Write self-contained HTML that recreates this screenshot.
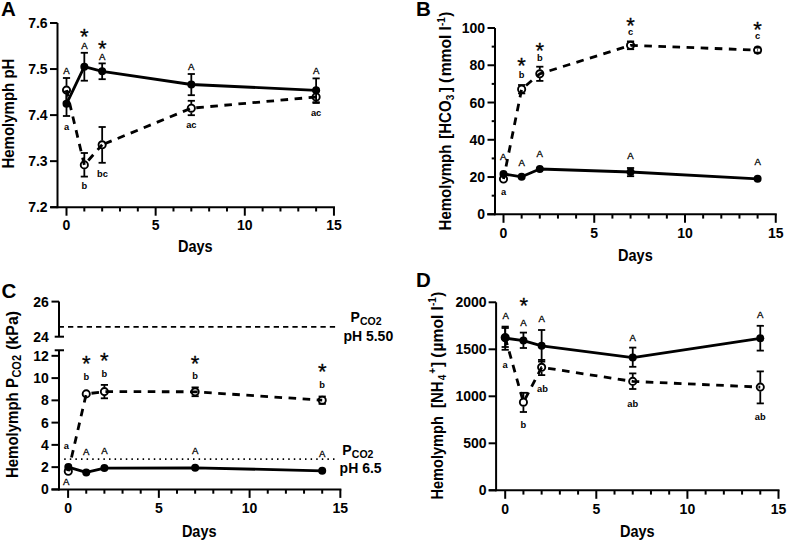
<!DOCTYPE html>
<html><head><meta charset="utf-8"><style>
html,body{margin:0;padding:0;background:#fff;}
svg{display:block;}
text{font-family:"Liberation Sans",sans-serif;fill:#000;}
</style></head><body>
<svg width="787" height="542" viewBox="0 0 787 542">
<rect width="787" height="542" fill="#fff"/>
<text x="1.00" y="15.80" font-size="20.5" font-weight="bold" text-anchor="start" >A</text>
<line x1="57.50" y1="23.00" x2="57.50" y2="208.20" stroke="#000" stroke-width="2.0" />
<line x1="50.00" y1="207.20" x2="57.50" y2="207.20" stroke="#000" stroke-width="2.0" />
<text x="47.60" y="212.24" font-size="14.0" font-weight="bold" text-anchor="end" >7.2</text>
<line x1="50.00" y1="161.15" x2="57.50" y2="161.15" stroke="#000" stroke-width="2.0" />
<text x="47.60" y="166.19" font-size="14.0" font-weight="bold" text-anchor="end" >7.3</text>
<line x1="50.00" y1="115.10" x2="57.50" y2="115.10" stroke="#000" stroke-width="2.0" />
<text x="47.60" y="120.14" font-size="14.0" font-weight="bold" text-anchor="end" >7.4</text>
<line x1="50.00" y1="69.05" x2="57.50" y2="69.05" stroke="#000" stroke-width="2.0" />
<text x="47.60" y="74.09" font-size="14.0" font-weight="bold" text-anchor="end" >7.5</text>
<line x1="50.00" y1="23.00" x2="57.50" y2="23.00" stroke="#000" stroke-width="2.0" />
<text x="47.60" y="28.04" font-size="14.0" font-weight="bold" text-anchor="end" >7.6</text>
<line x1="50.40" y1="207.20" x2="334.95" y2="207.20" stroke="#000" stroke-width="2.0" />
<line x1="66.50" y1="207.20" x2="66.50" y2="215.70" stroke="#000" stroke-width="2.0" />
<text x="66.50" y="230.20" font-size="14.0" font-weight="bold" text-anchor="middle" >0</text>
<line x1="84.33" y1="207.20" x2="84.33" y2="211.50" stroke="#000" stroke-width="2.0" />
<line x1="102.16" y1="207.20" x2="102.16" y2="211.50" stroke="#000" stroke-width="2.0" />
<line x1="119.99" y1="207.20" x2="119.99" y2="211.50" stroke="#000" stroke-width="2.0" />
<line x1="137.82" y1="207.20" x2="137.82" y2="211.50" stroke="#000" stroke-width="2.0" />
<line x1="155.65" y1="207.20" x2="155.65" y2="215.70" stroke="#000" stroke-width="2.0" />
<text x="155.65" y="230.20" font-size="14.0" font-weight="bold" text-anchor="middle" >5</text>
<line x1="173.48" y1="207.20" x2="173.48" y2="211.50" stroke="#000" stroke-width="2.0" />
<line x1="191.31" y1="207.20" x2="191.31" y2="211.50" stroke="#000" stroke-width="2.0" />
<line x1="209.14" y1="207.20" x2="209.14" y2="211.50" stroke="#000" stroke-width="2.0" />
<line x1="226.97" y1="207.20" x2="226.97" y2="211.50" stroke="#000" stroke-width="2.0" />
<line x1="244.80" y1="207.20" x2="244.80" y2="215.70" stroke="#000" stroke-width="2.0" />
<text x="244.80" y="230.20" font-size="14.0" font-weight="bold" text-anchor="middle" >10</text>
<line x1="262.63" y1="207.20" x2="262.63" y2="211.50" stroke="#000" stroke-width="2.0" />
<line x1="280.46" y1="207.20" x2="280.46" y2="211.50" stroke="#000" stroke-width="2.0" />
<line x1="298.29" y1="207.20" x2="298.29" y2="211.50" stroke="#000" stroke-width="2.0" />
<line x1="316.12" y1="207.20" x2="316.12" y2="211.50" stroke="#000" stroke-width="2.0" />
<line x1="333.95" y1="207.20" x2="333.95" y2="215.70" stroke="#000" stroke-width="2.0" />
<text x="333.95" y="230.20" font-size="14.0" font-weight="bold" text-anchor="middle" >15</text>
<text transform="translate(195.30,251.90) scale(1,1.08)" x="0" y="0" font-size="14.5" font-weight="bold" text-anchor="middle" >Days</text>
<text transform="translate(14.00,168.60) rotate(-90) scale(1,1.08)" x="0" y="0" font-size="15" font-weight="bold" text-anchor="start">Hemolymph pH</text>
<line x1="66.50" y1="78.00" x2="66.50" y2="85.85" stroke="#000" stroke-width="1.8" />
<line x1="66.50" y1="94.35" x2="66.50" y2="102.20" stroke="#000" stroke-width="1.8" />
<line x1="62.90" y1="78.00" x2="70.10" y2="78.00" stroke="#000" stroke-width="1.8" />
<line x1="62.90" y1="102.20" x2="70.10" y2="102.20" stroke="#000" stroke-width="1.8" />
<line x1="84.33" y1="153.00" x2="84.33" y2="160.65" stroke="#000" stroke-width="1.8" />
<line x1="84.33" y1="169.15" x2="84.33" y2="176.60" stroke="#000" stroke-width="1.8" />
<line x1="80.73" y1="153.00" x2="87.93" y2="153.00" stroke="#000" stroke-width="1.8" />
<line x1="80.73" y1="176.60" x2="87.93" y2="176.60" stroke="#000" stroke-width="1.8" />
<line x1="102.16" y1="127.00" x2="102.16" y2="140.55" stroke="#000" stroke-width="1.8" />
<line x1="102.16" y1="149.05" x2="102.16" y2="162.80" stroke="#000" stroke-width="1.8" />
<line x1="98.56" y1="127.00" x2="105.76" y2="127.00" stroke="#000" stroke-width="1.8" />
<line x1="98.56" y1="162.80" x2="105.76" y2="162.80" stroke="#000" stroke-width="1.8" />
<line x1="191.31" y1="100.80" x2="191.31" y2="103.95" stroke="#000" stroke-width="1.8" />
<line x1="191.31" y1="112.45" x2="191.31" y2="115.20" stroke="#000" stroke-width="1.8" />
<line x1="187.71" y1="100.80" x2="194.91" y2="100.80" stroke="#000" stroke-width="1.8" />
<line x1="187.71" y1="115.20" x2="194.91" y2="115.20" stroke="#000" stroke-width="1.8" />
<line x1="316.12" y1="91.20" x2="316.12" y2="92.75" stroke="#000" stroke-width="1.8" />
<line x1="316.12" y1="101.25" x2="316.12" y2="103.00" stroke="#000" stroke-width="1.8" />
<line x1="312.52" y1="91.20" x2="319.72" y2="91.20" stroke="#000" stroke-width="1.8" />
<line x1="312.52" y1="103.00" x2="319.72" y2="103.00" stroke="#000" stroke-width="1.8" />
<path d="M66.50,90.10 L84.33,164.90" fill="none" stroke="#000" stroke-width="2.8" stroke-dasharray="7.6 6.5" stroke-dashoffset="-13.00" stroke-linejoin="round"/>
<path d="M84.33,164.90 L102.16,144.80" fill="none" stroke="#000" stroke-width="2.8" stroke-dasharray="7.6 6.5" stroke-dashoffset="-5.90" stroke-linejoin="round"/>
<path d="M102.16,144.80 L191.31,108.20 L316.12,97.00" fill="none" stroke="#000" stroke-width="2.8" stroke-dasharray="7.6 6.5" stroke-dashoffset="-2.65" stroke-linejoin="round"/>
<circle cx="66.50" cy="90.10" r="3.6" fill="none" stroke="#000" stroke-width="1.9"/>
<circle cx="84.33" cy="164.90" r="3.6" fill="none" stroke="#000" stroke-width="1.9"/>
<circle cx="102.16" cy="144.80" r="3.6" fill="none" stroke="#000" stroke-width="1.9"/>
<circle cx="191.31" cy="108.20" r="3.6" fill="none" stroke="#000" stroke-width="1.9"/>
<circle cx="316.12" cy="97.00" r="3.6" fill="none" stroke="#000" stroke-width="1.9"/>
<line x1="66.50" y1="91.60" x2="66.50" y2="116.00" stroke="#000" stroke-width="1.8" />
<line x1="62.90" y1="91.60" x2="70.10" y2="91.60" stroke="#000" stroke-width="1.8" />
<line x1="62.90" y1="116.00" x2="70.10" y2="116.00" stroke="#000" stroke-width="1.8" />
<line x1="84.33" y1="52.80" x2="84.33" y2="80.70" stroke="#000" stroke-width="1.8" />
<line x1="80.73" y1="52.80" x2="87.93" y2="52.80" stroke="#000" stroke-width="1.8" />
<line x1="80.73" y1="80.70" x2="87.93" y2="80.70" stroke="#000" stroke-width="1.8" />
<line x1="102.16" y1="63.40" x2="102.16" y2="79.20" stroke="#000" stroke-width="1.8" />
<line x1="98.56" y1="63.40" x2="105.76" y2="63.40" stroke="#000" stroke-width="1.8" />
<line x1="98.56" y1="79.20" x2="105.76" y2="79.20" stroke="#000" stroke-width="1.8" />
<line x1="191.31" y1="74.00" x2="191.31" y2="95.20" stroke="#000" stroke-width="1.8" />
<line x1="187.71" y1="74.00" x2="194.91" y2="74.00" stroke="#000" stroke-width="1.8" />
<line x1="187.71" y1="95.20" x2="194.91" y2="95.20" stroke="#000" stroke-width="1.8" />
<line x1="316.12" y1="78.40" x2="316.12" y2="102.20" stroke="#000" stroke-width="1.8" />
<line x1="312.52" y1="78.40" x2="319.72" y2="78.40" stroke="#000" stroke-width="1.8" />
<line x1="312.52" y1="102.20" x2="319.72" y2="102.20" stroke="#000" stroke-width="1.8" />
<path d="M66.50,103.80 L84.33,66.70 L102.16,71.30 L191.31,84.50 L316.12,90.30" fill="none" stroke="#000" stroke-width="2.8" stroke-linejoin="round"/>
<circle cx="66.50" cy="103.80" r="4.0" fill="#000"/>
<circle cx="84.33" cy="66.70" r="4.0" fill="#000"/>
<circle cx="102.16" cy="71.30" r="4.0" fill="#000"/>
<circle cx="191.31" cy="84.50" r="4.0" fill="#000"/>
<circle cx="316.12" cy="90.30" r="4.0" fill="#000"/>
<text x="66.50" y="73.70" font-size="9.6" font-weight="normal" text-anchor="middle" stroke="#000" stroke-width="0.3">A</text>
<text x="84.33" y="49.00" font-size="9.6" font-weight="normal" text-anchor="middle" stroke="#000" stroke-width="0.3">A</text>
<text x="102.16" y="59.60" font-size="9.6" font-weight="normal" text-anchor="middle" stroke="#000" stroke-width="0.3">A</text>
<text x="191.31" y="69.90" font-size="9.6" font-weight="normal" text-anchor="middle" stroke="#000" stroke-width="0.3">A</text>
<text x="316.12" y="73.90" font-size="9.6" font-weight="normal" text-anchor="middle" stroke="#000" stroke-width="0.3">A</text>
<text x="84.33" y="43.76" font-size="22.0" font-weight="normal" text-anchor="middle" stroke="#000" stroke-width="0.3">*</text>
<text x="102.16" y="56.46" font-size="22.0" font-weight="normal" text-anchor="middle" stroke="#000" stroke-width="0.3">*</text>
<text x="66.50" y="129.50" font-size="9.3" font-weight="bold" text-anchor="middle" >a</text>
<text x="84.33" y="189.00" font-size="9.3" font-weight="bold" text-anchor="middle" >b</text>
<text x="102.46" y="176.60" font-size="9.3" font-weight="bold" text-anchor="middle" >bc</text>
<text x="191.31" y="128.40" font-size="9.3" font-weight="bold" text-anchor="middle" >ac</text>
<text x="316.12" y="116.20" font-size="9.3" font-weight="bold" text-anchor="middle" >ac</text>
<text x="416.00" y="15.60" font-size="20.5" font-weight="bold" text-anchor="start" >B</text>
<line x1="495.00" y1="28.00" x2="495.00" y2="215.30" stroke="#000" stroke-width="2.0" />
<line x1="487.50" y1="214.30" x2="495.00" y2="214.30" stroke="#000" stroke-width="2.0" />
<text x="485.00" y="219.34" font-size="14.0" font-weight="bold" text-anchor="end" >0</text>
<line x1="487.50" y1="177.04" x2="495.00" y2="177.04" stroke="#000" stroke-width="2.0" />
<text x="485.00" y="182.08" font-size="14.0" font-weight="bold" text-anchor="end" >20</text>
<line x1="487.50" y1="139.78" x2="495.00" y2="139.78" stroke="#000" stroke-width="2.0" />
<text x="485.00" y="144.82" font-size="14.0" font-weight="bold" text-anchor="end" >40</text>
<line x1="487.50" y1="102.52" x2="495.00" y2="102.52" stroke="#000" stroke-width="2.0" />
<text x="485.00" y="107.56" font-size="14.0" font-weight="bold" text-anchor="end" >60</text>
<line x1="487.50" y1="65.26" x2="495.00" y2="65.26" stroke="#000" stroke-width="2.0" />
<text x="485.00" y="70.30" font-size="14.0" font-weight="bold" text-anchor="end" >80</text>
<line x1="487.50" y1="28.00" x2="495.00" y2="28.00" stroke="#000" stroke-width="2.0" />
<text x="485.00" y="33.04" font-size="14.0" font-weight="bold" text-anchor="end" >100</text>
<line x1="491.70" y1="195.67" x2="495.00" y2="195.67" stroke="#000" stroke-width="2.0" />
<line x1="491.70" y1="158.41" x2="495.00" y2="158.41" stroke="#000" stroke-width="2.0" />
<line x1="491.70" y1="121.15" x2="495.00" y2="121.15" stroke="#000" stroke-width="2.0" />
<line x1="491.70" y1="83.89" x2="495.00" y2="83.89" stroke="#000" stroke-width="2.0" />
<line x1="491.70" y1="46.63" x2="495.00" y2="46.63" stroke="#000" stroke-width="2.0" />
<line x1="487.20" y1="214.30" x2="776.75" y2="214.30" stroke="#000" stroke-width="2.0" />
<line x1="503.50" y1="214.30" x2="503.50" y2="222.80" stroke="#000" stroke-width="2.0" />
<text x="503.50" y="237.60" font-size="14.0" font-weight="bold" text-anchor="middle" >0</text>
<line x1="521.65" y1="214.30" x2="521.65" y2="218.60" stroke="#000" stroke-width="2.0" />
<line x1="539.80" y1="214.30" x2="539.80" y2="218.60" stroke="#000" stroke-width="2.0" />
<line x1="557.95" y1="214.30" x2="557.95" y2="218.60" stroke="#000" stroke-width="2.0" />
<line x1="576.10" y1="214.30" x2="576.10" y2="218.60" stroke="#000" stroke-width="2.0" />
<line x1="594.25" y1="214.30" x2="594.25" y2="222.80" stroke="#000" stroke-width="2.0" />
<text x="594.25" y="237.60" font-size="14.0" font-weight="bold" text-anchor="middle" >5</text>
<line x1="612.40" y1="214.30" x2="612.40" y2="218.60" stroke="#000" stroke-width="2.0" />
<line x1="630.55" y1="214.30" x2="630.55" y2="218.60" stroke="#000" stroke-width="2.0" />
<line x1="648.70" y1="214.30" x2="648.70" y2="218.60" stroke="#000" stroke-width="2.0" />
<line x1="666.85" y1="214.30" x2="666.85" y2="218.60" stroke="#000" stroke-width="2.0" />
<line x1="685.00" y1="214.30" x2="685.00" y2="222.80" stroke="#000" stroke-width="2.0" />
<text x="685.00" y="237.60" font-size="14.0" font-weight="bold" text-anchor="middle" >10</text>
<line x1="703.15" y1="214.30" x2="703.15" y2="218.60" stroke="#000" stroke-width="2.0" />
<line x1="721.30" y1="214.30" x2="721.30" y2="218.60" stroke="#000" stroke-width="2.0" />
<line x1="739.45" y1="214.30" x2="739.45" y2="218.60" stroke="#000" stroke-width="2.0" />
<line x1="757.60" y1="214.30" x2="757.60" y2="218.60" stroke="#000" stroke-width="2.0" />
<line x1="775.75" y1="214.30" x2="775.75" y2="222.80" stroke="#000" stroke-width="2.0" />
<text x="775.75" y="237.60" font-size="14.0" font-weight="bold" text-anchor="middle" >15</text>
<text transform="translate(635.40,260.80) scale(1,1.08)" x="0" y="0" font-size="14.5" font-weight="bold" text-anchor="middle" >Days</text>
<text transform="translate(451.00,230.40) rotate(-90) scale(1,1.08)" x="0" y="0" font-size="15" font-weight="bold" text-anchor="start">Hemolymph <tspan dx="1.7">[HCO</tspan><tspan font-size="10" dy="2.5">3</tspan><tspan dx="2.5" dy="-2.5">]</tspan><tspan font-size="15.6"> (<tspan dx="1.5">mmol l</tspan></tspan><tspan font-size="10" dy="-6">-1</tspan><tspan dy="6" dx="0.5">)</tspan></text>
<line x1="518.05" y1="85.00" x2="525.25" y2="85.00" stroke="#000" stroke-width="1.8" />
<line x1="518.05" y1="93.40" x2="525.25" y2="93.40" stroke="#000" stroke-width="1.8" />
<line x1="539.80" y1="66.70" x2="539.80" y2="69.55" stroke="#000" stroke-width="1.8" />
<line x1="539.80" y1="78.05" x2="539.80" y2="80.90" stroke="#000" stroke-width="1.8" />
<line x1="536.20" y1="66.70" x2="543.40" y2="66.70" stroke="#000" stroke-width="1.8" />
<line x1="536.20" y1="80.90" x2="543.40" y2="80.90" stroke="#000" stroke-width="1.8" />
<line x1="626.95" y1="41.40" x2="634.15" y2="41.40" stroke="#000" stroke-width="1.8" />
<line x1="626.95" y1="49.20" x2="634.15" y2="49.20" stroke="#000" stroke-width="1.8" />
<line x1="754.00" y1="47.60" x2="761.20" y2="47.60" stroke="#000" stroke-width="1.8" />
<line x1="754.00" y1="52.60" x2="761.20" y2="52.60" stroke="#000" stroke-width="1.8" />
<path d="M503.50,179.00 L521.65,89.20 L539.80,73.80 L630.55,45.30 L757.60,50.10" fill="none" stroke="#000" stroke-width="2.8" stroke-dasharray="7.6 6.5" stroke-dashoffset="1.30" stroke-linejoin="round"/>
<circle cx="503.50" cy="179.00" r="3.6" fill="none" stroke="#000" stroke-width="1.9"/>
<circle cx="521.65" cy="89.20" r="3.6" fill="none" stroke="#000" stroke-width="1.9"/>
<circle cx="539.80" cy="73.80" r="3.6" fill="none" stroke="#000" stroke-width="1.9"/>
<circle cx="630.55" cy="45.30" r="3.6" fill="none" stroke="#000" stroke-width="1.9"/>
<circle cx="757.60" cy="50.10" r="3.6" fill="none" stroke="#000" stroke-width="1.9"/>
<line x1="630.55" y1="168.00" x2="630.55" y2="176.20" stroke="#000" stroke-width="1.8" />
<line x1="626.95" y1="168.00" x2="634.15" y2="168.00" stroke="#000" stroke-width="1.8" />
<line x1="626.95" y1="176.20" x2="634.15" y2="176.20" stroke="#000" stroke-width="1.8" />
<path d="M503.50,174.00 L521.65,176.80 L539.80,169.00 L630.55,172.00 L757.60,178.80" fill="none" stroke="#000" stroke-width="2.8" stroke-linejoin="round"/>
<circle cx="503.50" cy="174.00" r="4.0" fill="#000"/>
<circle cx="521.65" cy="176.80" r="4.0" fill="#000"/>
<circle cx="539.80" cy="169.00" r="4.0" fill="#000"/>
<circle cx="630.55" cy="172.00" r="4.0" fill="#000"/>
<circle cx="757.60" cy="178.80" r="4.0" fill="#000"/>
<text x="503.10" y="160.10" font-size="9.6" font-weight="normal" text-anchor="middle" stroke="#000" stroke-width="0.3">A</text>
<text x="521.65" y="165.70" font-size="9.6" font-weight="normal" text-anchor="middle" stroke="#000" stroke-width="0.3">A</text>
<text x="539.80" y="157.40" font-size="9.6" font-weight="normal" text-anchor="middle" stroke="#000" stroke-width="0.3">A</text>
<text x="630.55" y="159.30" font-size="9.6" font-weight="normal" text-anchor="middle" stroke="#000" stroke-width="0.3">A</text>
<text x="757.60" y="165.00" font-size="9.6" font-weight="normal" text-anchor="middle" stroke="#000" stroke-width="0.3">A</text>
<text x="503.50" y="194.60" font-size="9.3" font-weight="bold" text-anchor="middle" >a</text>
<text x="521.65" y="77.60" font-size="9.3" font-weight="bold" text-anchor="middle" >b</text>
<text x="539.80" y="61.10" font-size="9.3" font-weight="bold" text-anchor="middle" >b</text>
<text x="630.55" y="35.00" font-size="9.3" font-weight="bold" text-anchor="middle" >c</text>
<text x="757.60" y="39.30" font-size="9.3" font-weight="bold" text-anchor="middle" >c</text>
<text x="521.65" y="73.46" font-size="22.0" font-weight="normal" text-anchor="middle" stroke="#000" stroke-width="0.3">*</text>
<text x="539.80" y="57.56" font-size="22.0" font-weight="normal" text-anchor="middle" stroke="#000" stroke-width="0.3">*</text>
<text x="630.55" y="33.06" font-size="22.0" font-weight="normal" text-anchor="middle" stroke="#000" stroke-width="0.3">*</text>
<text x="757.60" y="36.86" font-size="22.0" font-weight="normal" text-anchor="middle" stroke="#000" stroke-width="0.3">*</text>
<text x="1.50" y="297.90" font-size="20.5" font-weight="bold" text-anchor="start" >C</text>
<line x1="59.00" y1="301.60" x2="59.00" y2="336.70" stroke="#000" stroke-width="2.0" />
<line x1="51.50" y1="301.60" x2="59.00" y2="301.60" stroke="#000" stroke-width="2.0" />
<text x="48.90" y="306.64" font-size="14.0" font-weight="bold" text-anchor="end" >26</text>
<line x1="54.70" y1="336.70" x2="64.00" y2="336.70" stroke="#000" stroke-width="2.0" />
<text x="48.90" y="341.74" font-size="14.0" font-weight="bold" text-anchor="end" >24</text>
<line x1="54.70" y1="350.27" x2="64.00" y2="350.27" stroke="#000" stroke-width="2.0" />
<line x1="59.00" y1="350.27" x2="59.00" y2="490.40" stroke="#000" stroke-width="2.0" />
<line x1="51.50" y1="489.40" x2="59.00" y2="489.40" stroke="#000" stroke-width="2.0" />
<text x="48.90" y="494.44" font-size="14.0" font-weight="bold" text-anchor="end" >0</text>
<line x1="51.50" y1="467.14" x2="59.00" y2="467.14" stroke="#000" stroke-width="2.0" />
<text x="48.90" y="472.18" font-size="14.0" font-weight="bold" text-anchor="end" >2</text>
<line x1="51.50" y1="444.88" x2="59.00" y2="444.88" stroke="#000" stroke-width="2.0" />
<text x="48.90" y="449.92" font-size="14.0" font-weight="bold" text-anchor="end" >4</text>
<line x1="51.50" y1="422.62" x2="59.00" y2="422.62" stroke="#000" stroke-width="2.0" />
<text x="48.90" y="427.66" font-size="14.0" font-weight="bold" text-anchor="end" >6</text>
<line x1="51.50" y1="400.36" x2="59.00" y2="400.36" stroke="#000" stroke-width="2.0" />
<text x="48.90" y="405.40" font-size="14.0" font-weight="bold" text-anchor="end" >8</text>
<line x1="51.50" y1="378.10" x2="59.00" y2="378.10" stroke="#000" stroke-width="2.0" />
<text x="48.90" y="383.14" font-size="14.0" font-weight="bold" text-anchor="end" >10</text>
<line x1="51.50" y1="355.84" x2="59.00" y2="355.84" stroke="#000" stroke-width="2.0" />
<text x="48.90" y="360.88" font-size="14.0" font-weight="bold" text-anchor="end" >12</text>
<line x1="51.50" y1="489.40" x2="341.35" y2="489.40" stroke="#000" stroke-width="2.0" />
<line x1="68.10" y1="489.40" x2="68.10" y2="497.90" stroke="#000" stroke-width="2.0" />
<text x="68.10" y="512.60" font-size="14.0" font-weight="bold" text-anchor="middle" >0</text>
<line x1="86.25" y1="489.40" x2="86.25" y2="493.70" stroke="#000" stroke-width="2.0" />
<line x1="104.40" y1="489.40" x2="104.40" y2="493.70" stroke="#000" stroke-width="2.0" />
<line x1="122.55" y1="489.40" x2="122.55" y2="493.70" stroke="#000" stroke-width="2.0" />
<line x1="140.70" y1="489.40" x2="140.70" y2="493.70" stroke="#000" stroke-width="2.0" />
<line x1="158.85" y1="489.40" x2="158.85" y2="497.90" stroke="#000" stroke-width="2.0" />
<text x="158.85" y="512.60" font-size="14.0" font-weight="bold" text-anchor="middle" >5</text>
<line x1="177.00" y1="489.40" x2="177.00" y2="493.70" stroke="#000" stroke-width="2.0" />
<line x1="195.15" y1="489.40" x2="195.15" y2="493.70" stroke="#000" stroke-width="2.0" />
<line x1="213.30" y1="489.40" x2="213.30" y2="493.70" stroke="#000" stroke-width="2.0" />
<line x1="231.45" y1="489.40" x2="231.45" y2="493.70" stroke="#000" stroke-width="2.0" />
<line x1="249.60" y1="489.40" x2="249.60" y2="497.90" stroke="#000" stroke-width="2.0" />
<text x="249.60" y="512.60" font-size="14.0" font-weight="bold" text-anchor="middle" >10</text>
<line x1="267.75" y1="489.40" x2="267.75" y2="493.70" stroke="#000" stroke-width="2.0" />
<line x1="285.90" y1="489.40" x2="285.90" y2="493.70" stroke="#000" stroke-width="2.0" />
<line x1="304.05" y1="489.40" x2="304.05" y2="493.70" stroke="#000" stroke-width="2.0" />
<line x1="322.20" y1="489.40" x2="322.20" y2="493.70" stroke="#000" stroke-width="2.0" />
<line x1="340.35" y1="489.40" x2="340.35" y2="497.90" stroke="#000" stroke-width="2.0" />
<text x="340.35" y="512.60" font-size="14.0" font-weight="bold" text-anchor="middle" >15</text>
<text transform="translate(199.20,536.60) scale(1,1.08)" x="0" y="0" font-size="14.5" font-weight="bold" text-anchor="middle" >Days</text>
<text transform="translate(18.00,478.10) rotate(-90) scale(1,1.08)" x="0" y="0" font-size="15" font-weight="bold" text-anchor="start">Hemolymph P<tspan font-size="11" dy="3" dx="0.5">CO2</tspan><tspan dy="-3" dx="0.8" font-size="15.9"> (kPa)</tspan></text>
<line x1="58.65" y1="326.90" x2="335.80" y2="326.90" stroke="#000" stroke-width="1.7" stroke-dasharray="5.3 4.05"/>
<line x1="64.20" y1="459.10" x2="336.20" y2="459.10" stroke="#000" stroke-width="1.6" stroke-dasharray="1.5 4.1"/>
<text x="350.4" y="322.0" font-size="14" font-weight="bold">P<tspan font-size="10.5" dy="3.2" dx="0.3">CO2</tspan></text>
<text x="343.40" y="340.60" font-size="14" font-weight="bold" text-anchor="start" >pH 5.50</text>
<text x="342.2" y="454.5" font-size="14" font-weight="bold">P<tspan font-size="10.5" dy="3.2" dx="0.3">CO2</tspan></text>
<text x="339.60" y="472.70" font-size="14" font-weight="bold" text-anchor="start" >pH 6.5</text>
<line x1="104.40" y1="384.90" x2="104.40" y2="387.35" stroke="#000" stroke-width="1.8" />
<line x1="104.40" y1="395.85" x2="104.40" y2="398.30" stroke="#000" stroke-width="1.8" />
<line x1="100.80" y1="384.90" x2="108.00" y2="384.90" stroke="#000" stroke-width="1.8" />
<line x1="100.80" y1="398.30" x2="108.00" y2="398.30" stroke="#000" stroke-width="1.8" />
<line x1="195.15" y1="387.40" x2="195.15" y2="387.55" stroke="#000" stroke-width="1.8" />
<line x1="195.15" y1="396.05" x2="195.15" y2="396.20" stroke="#000" stroke-width="1.8" />
<line x1="191.55" y1="387.40" x2="198.75" y2="387.40" stroke="#000" stroke-width="1.8" />
<line x1="191.55" y1="396.20" x2="198.75" y2="396.20" stroke="#000" stroke-width="1.8" />
<line x1="318.60" y1="396.50" x2="325.80" y2="396.50" stroke="#000" stroke-width="1.8" />
<line x1="318.60" y1="403.90" x2="325.80" y2="403.90" stroke="#000" stroke-width="1.8" />
<path d="M68.30,471.30 L86.25,393.90 L104.40,391.60 L195.15,391.80 L322.20,400.20" fill="none" stroke="#000" stroke-width="2.8" stroke-dasharray="7.6 6.5" stroke-dashoffset="-0.10" stroke-linejoin="round"/>
<circle cx="68.30" cy="471.30" r="3.6" fill="none" stroke="#000" stroke-width="1.9"/>
<circle cx="86.25" cy="393.90" r="3.6" fill="none" stroke="#000" stroke-width="1.9"/>
<circle cx="104.40" cy="391.60" r="3.6" fill="none" stroke="#000" stroke-width="1.9"/>
<circle cx="195.15" cy="391.80" r="3.6" fill="none" stroke="#000" stroke-width="1.9"/>
<circle cx="322.20" cy="400.20" r="3.6" fill="none" stroke="#000" stroke-width="1.9"/>
<path d="M68.30,467.10 L86.25,472.40 L104.40,468.10 L195.15,467.80 L322.20,470.80" fill="none" stroke="#000" stroke-width="2.8" stroke-linejoin="round"/>
<circle cx="68.30" cy="467.10" r="4.0" fill="#000"/>
<circle cx="86.25" cy="472.40" r="4.0" fill="#000"/>
<circle cx="104.40" cy="468.10" r="4.0" fill="#000"/>
<circle cx="195.15" cy="467.80" r="4.0" fill="#000"/>
<circle cx="322.20" cy="470.80" r="4.0" fill="#000"/>
<text x="66.30" y="484.90" font-size="9.6" font-weight="normal" text-anchor="middle" stroke="#000" stroke-width="0.3">A</text>
<text x="86.25" y="454.80" font-size="9.6" font-weight="normal" text-anchor="middle" stroke="#000" stroke-width="0.3">A</text>
<text x="104.40" y="454.30" font-size="9.6" font-weight="normal" text-anchor="middle" stroke="#000" stroke-width="0.3">A</text>
<text x="195.15" y="454.30" font-size="9.6" font-weight="normal" text-anchor="middle" stroke="#000" stroke-width="0.3">A</text>
<text x="322.20" y="456.90" font-size="9.6" font-weight="normal" text-anchor="middle" stroke="#000" stroke-width="0.3">A</text>
<text x="66.30" y="449.40" font-size="9.3" font-weight="bold" text-anchor="middle" >a</text>
<text x="86.25" y="379.70" font-size="9.3" font-weight="bold" text-anchor="middle" >b</text>
<text x="104.40" y="377.10" font-size="9.3" font-weight="bold" text-anchor="middle" >b</text>
<text x="195.15" y="379.20" font-size="9.3" font-weight="bold" text-anchor="middle" >b</text>
<text x="322.20" y="388.00" font-size="9.3" font-weight="bold" text-anchor="middle" >b</text>
<text x="86.25" y="370.56" font-size="22.0" font-weight="normal" text-anchor="middle" stroke="#000" stroke-width="0.3">*</text>
<text x="104.40" y="367.96" font-size="22.0" font-weight="normal" text-anchor="middle" stroke="#000" stroke-width="0.3">*</text>
<text x="195.15" y="371.16" font-size="22.0" font-weight="normal" text-anchor="middle" stroke="#000" stroke-width="0.3">*</text>
<text x="322.20" y="379.06" font-size="22.0" font-weight="normal" text-anchor="middle" stroke="#000" stroke-width="0.3">*</text>
<text x="416.00" y="286.80" font-size="20.5" font-weight="bold" text-anchor="start" >D</text>
<line x1="496.10" y1="302.30" x2="496.10" y2="491.30" stroke="#000" stroke-width="2.0" />
<line x1="488.60" y1="490.30" x2="496.10" y2="490.30" stroke="#000" stroke-width="2.0" />
<text x="486.60" y="495.34" font-size="14.0" font-weight="bold" text-anchor="end" >0</text>
<line x1="488.60" y1="443.30" x2="496.10" y2="443.30" stroke="#000" stroke-width="2.0" />
<text x="486.60" y="448.34" font-size="14.0" font-weight="bold" text-anchor="end" >500</text>
<line x1="488.60" y1="396.30" x2="496.10" y2="396.30" stroke="#000" stroke-width="2.0" />
<text x="486.60" y="401.34" font-size="14.0" font-weight="bold" text-anchor="end" >1000</text>
<line x1="488.60" y1="349.30" x2="496.10" y2="349.30" stroke="#000" stroke-width="2.0" />
<text x="486.60" y="354.34" font-size="14.0" font-weight="bold" text-anchor="end" >1500</text>
<line x1="488.60" y1="302.30" x2="496.10" y2="302.30" stroke="#000" stroke-width="2.0" />
<text x="486.60" y="307.34" font-size="14.0" font-weight="bold" text-anchor="end" >2000</text>
<line x1="488.80" y1="490.30" x2="779.50" y2="490.30" stroke="#000" stroke-width="2.0" />
<line x1="505.20" y1="490.30" x2="505.20" y2="498.80" stroke="#000" stroke-width="2.0" />
<text x="505.20" y="513.90" font-size="14.0" font-weight="bold" text-anchor="middle" >0</text>
<line x1="523.42" y1="490.30" x2="523.42" y2="494.60" stroke="#000" stroke-width="2.0" />
<line x1="541.64" y1="490.30" x2="541.64" y2="494.60" stroke="#000" stroke-width="2.0" />
<line x1="559.86" y1="490.30" x2="559.86" y2="494.60" stroke="#000" stroke-width="2.0" />
<line x1="578.08" y1="490.30" x2="578.08" y2="494.60" stroke="#000" stroke-width="2.0" />
<line x1="596.30" y1="490.30" x2="596.30" y2="498.80" stroke="#000" stroke-width="2.0" />
<text x="596.30" y="513.90" font-size="14.0" font-weight="bold" text-anchor="middle" >5</text>
<line x1="614.52" y1="490.30" x2="614.52" y2="494.60" stroke="#000" stroke-width="2.0" />
<line x1="632.74" y1="490.30" x2="632.74" y2="494.60" stroke="#000" stroke-width="2.0" />
<line x1="650.96" y1="490.30" x2="650.96" y2="494.60" stroke="#000" stroke-width="2.0" />
<line x1="669.18" y1="490.30" x2="669.18" y2="494.60" stroke="#000" stroke-width="2.0" />
<line x1="687.40" y1="490.30" x2="687.40" y2="498.80" stroke="#000" stroke-width="2.0" />
<text x="687.40" y="513.90" font-size="14.0" font-weight="bold" text-anchor="middle" >10</text>
<line x1="705.62" y1="490.30" x2="705.62" y2="494.60" stroke="#000" stroke-width="2.0" />
<line x1="723.84" y1="490.30" x2="723.84" y2="494.60" stroke="#000" stroke-width="2.0" />
<line x1="742.06" y1="490.30" x2="742.06" y2="494.60" stroke="#000" stroke-width="2.0" />
<line x1="760.28" y1="490.30" x2="760.28" y2="494.60" stroke="#000" stroke-width="2.0" />
<line x1="778.50" y1="490.30" x2="778.50" y2="498.80" stroke="#000" stroke-width="2.0" />
<text x="778.50" y="513.90" font-size="14.0" font-weight="bold" text-anchor="middle" >15</text>
<text transform="translate(637.30,537.00) scale(1,1.08)" x="0" y="0" font-size="14.5" font-weight="bold" text-anchor="middle" >Days</text>
<text transform="translate(442.50,499.60) rotate(-90) scale(1,1.08)" x="0" y="0" font-size="15" font-weight="bold" text-anchor="start"><tspan font-size="14.6">Hemolymph </tspan><tspan dx="4">[NH</tspan><tspan font-size="10" dy="3" dx="1">4</tspan><tspan font-size="10" dy="-9" dx="1">+</tspan><tspan dy="6" dx="1">]</tspan><tspan font-size="15.6"> (<tspan dx="1">µmol l</tspan></tspan><tspan font-size="10" dy="-6">-1</tspan><tspan dy="6" dx="0.5">)</tspan></text>
<line x1="505.20" y1="328.00" x2="505.20" y2="333.25" stroke="#000" stroke-width="1.8" />
<line x1="505.20" y1="341.75" x2="505.20" y2="347.00" stroke="#000" stroke-width="1.8" />
<line x1="501.60" y1="328.00" x2="508.80" y2="328.00" stroke="#000" stroke-width="1.8" />
<line x1="501.60" y1="347.00" x2="508.80" y2="347.00" stroke="#000" stroke-width="1.8" />
<line x1="523.42" y1="392.80" x2="523.42" y2="397.95" stroke="#000" stroke-width="1.8" />
<line x1="523.42" y1="406.45" x2="523.42" y2="412.00" stroke="#000" stroke-width="1.8" />
<line x1="519.82" y1="392.80" x2="527.02" y2="392.80" stroke="#000" stroke-width="1.8" />
<line x1="519.82" y1="412.00" x2="527.02" y2="412.00" stroke="#000" stroke-width="1.8" />
<line x1="541.64" y1="359.90" x2="541.64" y2="363.05" stroke="#000" stroke-width="1.8" />
<line x1="541.64" y1="371.55" x2="541.64" y2="375.10" stroke="#000" stroke-width="1.8" />
<line x1="538.04" y1="359.90" x2="545.24" y2="359.90" stroke="#000" stroke-width="1.8" />
<line x1="538.04" y1="375.10" x2="545.24" y2="375.10" stroke="#000" stroke-width="1.8" />
<line x1="632.74" y1="373.40" x2="632.74" y2="377.15" stroke="#000" stroke-width="1.8" />
<line x1="632.74" y1="385.65" x2="632.74" y2="389.00" stroke="#000" stroke-width="1.8" />
<line x1="629.14" y1="373.40" x2="636.34" y2="373.40" stroke="#000" stroke-width="1.8" />
<line x1="629.14" y1="389.00" x2="636.34" y2="389.00" stroke="#000" stroke-width="1.8" />
<line x1="760.28" y1="371.40" x2="760.28" y2="382.85" stroke="#000" stroke-width="1.8" />
<line x1="760.28" y1="391.35" x2="760.28" y2="403.40" stroke="#000" stroke-width="1.8" />
<line x1="756.68" y1="371.40" x2="763.88" y2="371.40" stroke="#000" stroke-width="1.8" />
<line x1="756.68" y1="403.40" x2="763.88" y2="403.40" stroke="#000" stroke-width="1.8" />
<path d="M505.20,337.50 L523.42,402.20 L541.64,367.30 L632.74,381.40 L760.28,387.10" fill="none" stroke="#000" stroke-width="2.8" stroke-dasharray="7.6 6.5" stroke-dashoffset="-0.30" stroke-linejoin="round"/>
<circle cx="505.20" cy="337.50" r="3.6" fill="none" stroke="#000" stroke-width="1.9"/>
<circle cx="523.42" cy="402.20" r="3.6" fill="none" stroke="#000" stroke-width="1.9"/>
<circle cx="541.64" cy="367.30" r="3.6" fill="none" stroke="#000" stroke-width="1.9"/>
<circle cx="632.74" cy="381.40" r="3.6" fill="none" stroke="#000" stroke-width="1.9"/>
<circle cx="760.28" cy="387.10" r="3.6" fill="none" stroke="#000" stroke-width="1.9"/>
<line x1="505.20" y1="326.60" x2="505.20" y2="349.80" stroke="#000" stroke-width="1.8" />
<line x1="501.60" y1="326.60" x2="508.80" y2="326.60" stroke="#000" stroke-width="1.8" />
<line x1="501.60" y1="349.80" x2="508.80" y2="349.80" stroke="#000" stroke-width="1.8" />
<line x1="523.42" y1="332.60" x2="523.42" y2="348.00" stroke="#000" stroke-width="1.8" />
<line x1="519.82" y1="332.60" x2="527.02" y2="332.60" stroke="#000" stroke-width="1.8" />
<line x1="519.82" y1="348.00" x2="527.02" y2="348.00" stroke="#000" stroke-width="1.8" />
<line x1="541.64" y1="330.00" x2="541.64" y2="361.60" stroke="#000" stroke-width="1.8" />
<line x1="538.04" y1="330.00" x2="545.24" y2="330.00" stroke="#000" stroke-width="1.8" />
<line x1="538.04" y1="361.60" x2="545.24" y2="361.60" stroke="#000" stroke-width="1.8" />
<line x1="632.74" y1="347.60" x2="632.74" y2="366.80" stroke="#000" stroke-width="1.8" />
<line x1="629.14" y1="347.60" x2="636.34" y2="347.60" stroke="#000" stroke-width="1.8" />
<line x1="629.14" y1="366.80" x2="636.34" y2="366.80" stroke="#000" stroke-width="1.8" />
<line x1="760.28" y1="325.80" x2="760.28" y2="350.60" stroke="#000" stroke-width="1.8" />
<line x1="756.68" y1="325.80" x2="763.88" y2="325.80" stroke="#000" stroke-width="1.8" />
<line x1="756.68" y1="350.60" x2="763.88" y2="350.60" stroke="#000" stroke-width="1.8" />
<path d="M505.20,338.10 L523.42,340.60 L541.64,345.80 L632.74,357.60 L760.28,338.30" fill="none" stroke="#000" stroke-width="2.8" stroke-linejoin="round"/>
<circle cx="505.20" cy="338.10" r="4.0" fill="#000"/>
<circle cx="523.42" cy="340.60" r="4.0" fill="#000"/>
<circle cx="541.64" cy="345.80" r="4.0" fill="#000"/>
<circle cx="632.74" cy="357.60" r="4.0" fill="#000"/>
<circle cx="760.28" cy="338.30" r="4.0" fill="#000"/>
<text x="505.60" y="319.10" font-size="9.6" font-weight="normal" text-anchor="middle" stroke="#000" stroke-width="0.3">A</text>
<text x="523.42" y="325.50" font-size="9.6" font-weight="normal" text-anchor="middle" stroke="#000" stroke-width="0.3">A</text>
<text x="541.64" y="322.00" font-size="9.6" font-weight="normal" text-anchor="middle" stroke="#000" stroke-width="0.3">A</text>
<text x="632.74" y="341.30" font-size="9.6" font-weight="normal" text-anchor="middle" stroke="#000" stroke-width="0.3">A</text>
<text x="760.28" y="318.00" font-size="9.6" font-weight="normal" text-anchor="middle" stroke="#000" stroke-width="0.3">A</text>
<text x="505.20" y="367.70" font-size="9.3" font-weight="bold" text-anchor="middle" >a</text>
<text x="523.42" y="427.50" font-size="9.3" font-weight="bold" text-anchor="middle" >b</text>
<text x="542.54" y="392.40" font-size="9.3" font-weight="bold" text-anchor="middle" >ab</text>
<text x="632.74" y="406.90" font-size="9.3" font-weight="bold" text-anchor="middle" >ab</text>
<text x="760.28" y="420.20" font-size="9.3" font-weight="bold" text-anchor="middle" >ab</text>
<text x="523.82" y="313.46" font-size="22.0" font-weight="normal" text-anchor="middle" stroke="#000" stroke-width="0.3">*</text>
</svg>
</body></html>
